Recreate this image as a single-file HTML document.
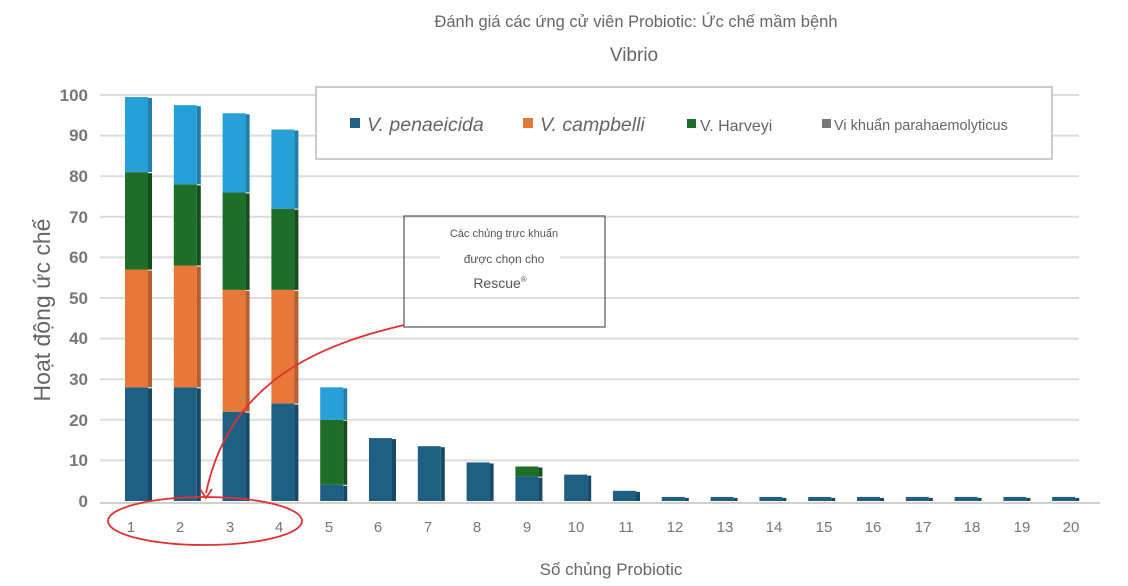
<!DOCTYPE html>
<html><head><meta charset="utf-8"><style>
html,body{margin:0;padding:0;background:#fff;}
svg{display:block;font-family:"Liberation Sans","DejaVu Sans",sans-serif;}
</style></head><body>
<svg id="s" width="1128" height="586" viewBox="0 0 1128 586" xmlns="http://www.w3.org/2000/svg">
<rect width="1128" height="586" fill="#fff"/>
<g id="grid" stroke="#dcdcdc" stroke-width="2"></g>
<line x1="100" y1="503" x2="1100" y2="503" stroke="#d0d0d0" stroke-width="2"/>
<g id="bars"></g>
<text x="636" y="27" font-size="16.5" fill="#666" text-anchor="middle">Đánh giá các ứng cử viên Probiotic: Ức chế mầm bệnh</text>
<text x="634" y="61" font-size="19" fill="#666" text-anchor="middle">Vibrio</text>
<g font-size="17" font-weight="bold" fill="#777" text-anchor="end">
<text x="88" y="507">0</text><text x="88" y="466">10</text><text x="88" y="426">20</text><text x="88" y="385">30</text><text x="88" y="344">40</text><text x="88" y="304">50</text><text x="88" y="263">60</text><text x="88" y="223">70</text><text x="88" y="182">80</text><text x="88" y="141">90</text><text x="88" y="101">100</text>
</g>
<text transform="translate(50,310) rotate(-90)" font-size="23" fill="#666" text-anchor="middle">Hoạt động ức chế</text>
<g font-size="15" fill="#777" text-anchor="middle">
<text x="131" y="532">1</text><text x="180" y="532">2</text><text x="230" y="532">3</text><text x="279" y="532">4</text><text x="329" y="532">5</text><text x="378" y="532">6</text><text x="428" y="532">7</text><text x="477" y="532">8</text><text x="527" y="532">9</text><text x="576" y="532">10</text><text x="626" y="532">11</text><text x="675" y="532">12</text><text x="725" y="532">13</text><text x="774" y="532">14</text><text x="824" y="532">15</text><text x="873" y="532">16</text><text x="923" y="532">17</text><text x="972" y="532">18</text><text x="1022" y="532">19</text><text x="1071" y="532">20</text>
</g>
<text x="611" y="575" font-size="17" fill="#666" text-anchor="middle">Số chủng Probiotic</text>
<rect x="316" y="87" width="736" height="72" fill="#fff" stroke="#bbb" stroke-width="1.5"/>
<rect x="350" y="118" width="10" height="10" fill="#1f5f84"/>
<text x="367" y="131" font-size="19.5" font-style="italic" fill="#666">V. penaeicida</text>
<rect x="523" y="118" width="10" height="10" fill="#e8773a"/>
<text x="540" y="131" font-size="19.5" font-style="italic" fill="#666">V. campbelli</text>
<rect x="687" y="119" width="9" height="9" fill="#1e6e2a"/>
<text x="700" y="131" font-size="16" fill="#666">V. Harveyi</text>
<rect x="822" y="119" width="9" height="9" fill="#777"/>
<text x="834" y="130" font-size="14.5" fill="#666">Vi khuẩn parahaemolyticus</text>
<rect x="404" y="216" width="201" height="111" fill="none" stroke="#555" stroke-width="1.2"/>
<rect x="440" y="250" width="120" height="18" fill="#fff"/>
<text x="504" y="237" font-size="11" fill="#555" text-anchor="middle">Các chủng trực khuẩn</text>
<text x="504" y="263" font-size="12" fill="#555" text-anchor="middle">được chọn cho</text>
<text x="500" y="288" font-size="14" fill="#555" text-anchor="middle">Rescue<tspan font-size="8" dy="-6">®</tspan></text>
<path d="M404 325 C320 345 230 380 206 493" fill="none" stroke="#e03030" stroke-width="1.8"/>
<path d="M200 489 L206 498 L212 489" fill="none" stroke="#e03030" stroke-width="1.8"/>
<ellipse cx="205" cy="521" rx="97" ry="24" fill="none" stroke="#e03030" stroke-width="1.8"/>
</svg>
<script>
var ns="http://www.w3.org/2000/svg";
function el(p,t,a){var e=document.createElementNS(ns,t);for(var k in a)e.setAttribute(k,a[k]);p.appendChild(e);return e;}
var g=document.getElementById('grid');
for(var i=1;i<=10;i++){var y=501-40.6*i;el(g,'line',{x1:100,y1:y,x2:1079,y2:y});}
var b=document.getElementById('bars');
var cols=['#1f5f84','#e8773a','#1e6e2a','#27a0d8'];
var side=['#174a66','#b85e2c','#154f1e','#1f7fad'];
var data=[[28,57,81,99.5],[28,58,78,97.5],[22,52,76,95.5],[24,52,72,91.5],[4,4,20,28],[15.5],[13.5],[9.5],[6,6,8.5],[6.5],[2.5],[1],[1],[1],[1],[1],[1],[1],[1],[1]];
function Y(v){return 501-4.06*v;}
data.forEach(function(d,i){
 var x=125+48.8*i,w=23,prev=0;
 for(var j=0;j<d.length;j++){
  var v=d[j]; if(v<=prev)continue;
  el(b,'rect',{x:x,y:Y(v),width:w,height:Y(prev)-Y(v),fill:cols[j]});
  el(b,'rect',{x:x+w,y:Y(v)+1,width:4,height:Y(prev)-Y(v)-1,fill:side[j]});
  prev=v;
 }
});
</script>
</body></html>
